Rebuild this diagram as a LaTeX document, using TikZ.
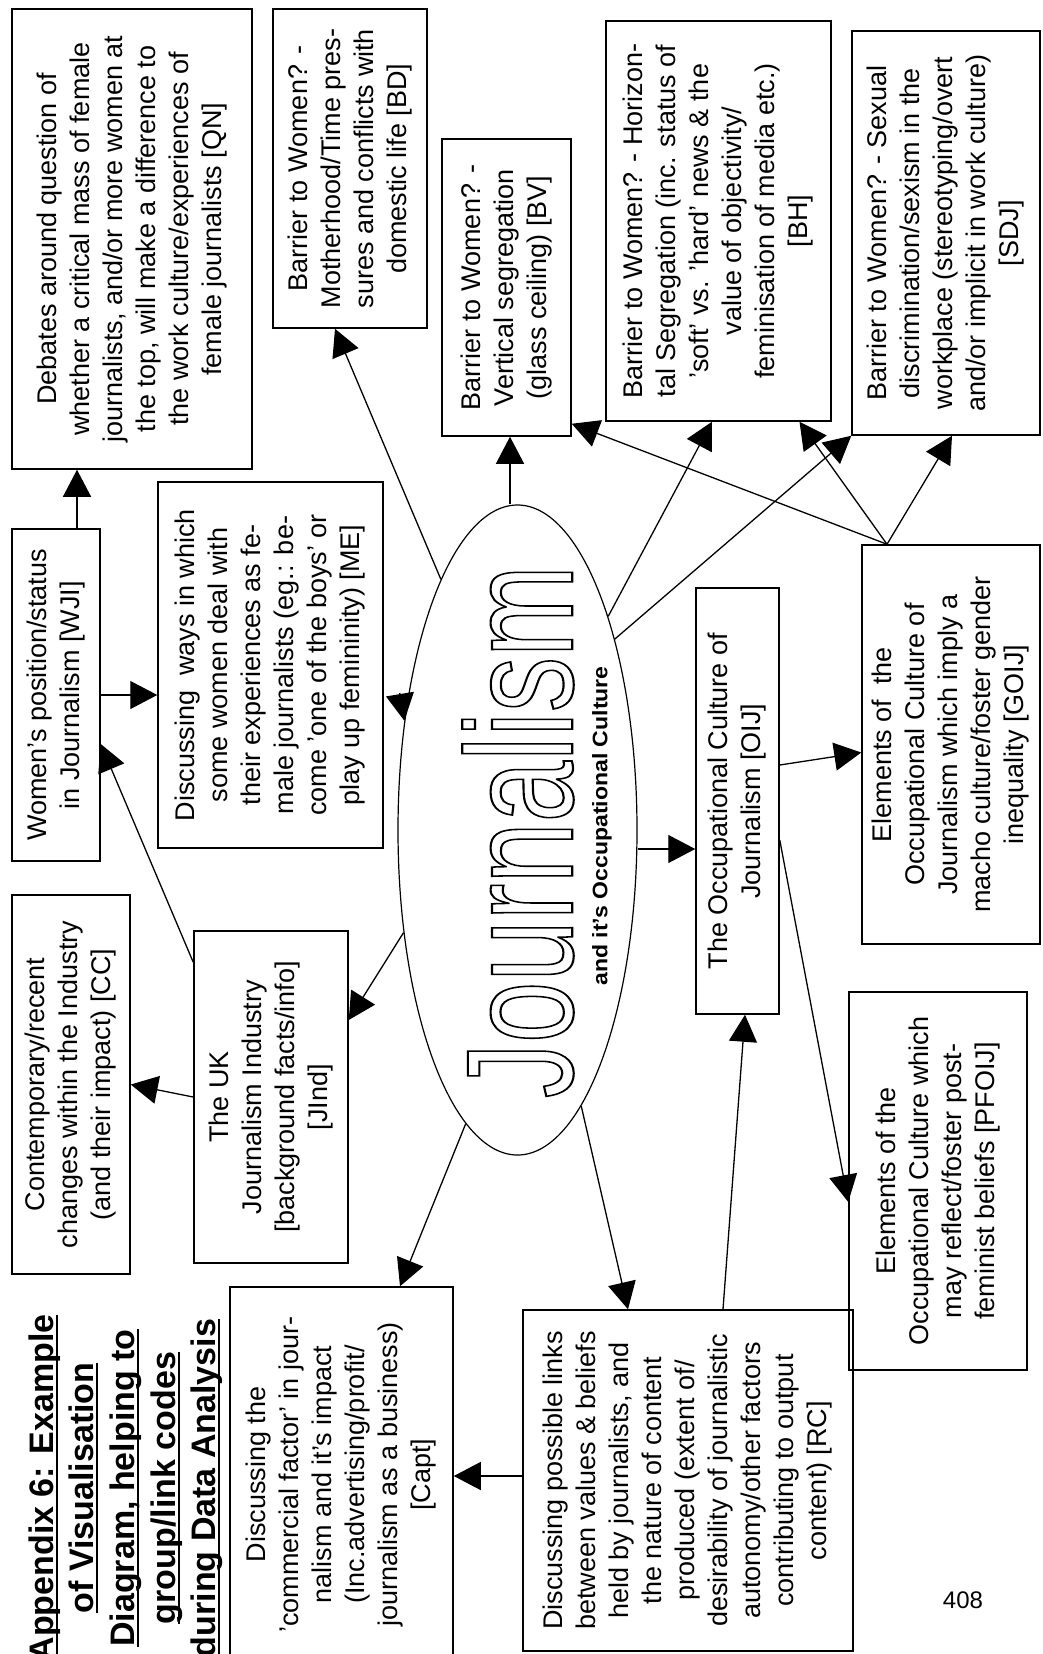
\documentclass[tikz,border=0pt]{standalone}
\usepackage{fontspec}
\setmainfont{Liberation Sans}
\usetikzlibrary{arrows.meta,shapes.geometric}
\newcommand{\rt}[1]{\rotatebox{90}{\begin{tabular}{@{}c@{}}#1\end{tabular}}}
\newcommand{\ulx}[1]{\setbox0\hbox{#1}\rlap{\rule[-5pt]{\wd0}{2.4pt}}\box0}
\newcommand{\outl}[1]{\special{pdf:literal direct 1 Tr 1.4 w}#1\special{pdf:literal direct 0 Tr}}
\begin{document}
\begin{tikzpicture}[x=1pt,y=-1pt,
  box/.style={draw, line width=1.5pt, inner sep=0pt, font=\fontsize{27}{33}\selectfont},
  arr/.style={line width=1.3pt, -{Triangle[length=27pt,width=28pt]}},
  ttl/.style={rotate=90, anchor=base, inner sep=0pt, font=\fontsize{34}{40}\selectfont\bfseries},
]
\useasboundingbox (0,0) rectangle (1042,1654);
\clip (0,0) rectangle (1042,1654);
\fill[white] (0,0) rectangle (1042,1654);

% ellipse
\node[ellipse, draw, line width=1.2pt, minimum width=239pt, minimum height=650pt, inner sep=0pt] (E) at (517.5,830) {};
\node[inner sep=0pt] (J) at (518,831.5) {\rotatebox{90}{\resizebox{533pt}{110pt}{\fontsize{100}{100}\selectfont\outl{Journalism}}}};
\node[inner sep=0pt] (sub) at (602,826) {\rotatebox{90}{\resizebox{319pt}{\height}{\fontsize{21}{25}\selectfont\bfseries and it's Occupational Culture}}};

% boxes
\node[box, minimum width=240pt, minimum height=460pt] (QN) at (132,239) {\rt{Debates around question of\\ whether a critical mass of female\\ journalists, and/or more women at\\ the top, will make a difference to\\ the work culture/experiences of\\ female journalists [QN]}};
\node[box, minimum width=154pt, minimum height=319pt] (BD) at (350,168.5) {\rt{Barrier to Women? -\\ Motherhood/Time pres-\\ sures and conflicts with\\ domestic life [BD]}};
\node[box, minimum width=129pt, minimum height=297pt] (BV) at (506.5,287.5) {\rt{Barrier to Women? -\\ Vertical segregation\\ (glass ceiling) [BV]}};
\node[box, minimum width=225pt, minimum height=400pt] (BH) at (718.5,221) {\rt{Barrier to Women? - Horizon-\\ tal Segregation (inc. status of\\ 'soft' vs. 'hard' news \& the\\ value of objectivity/\\ feminisation of media etc.)\\{}[BH]}};
\node[box, minimum width=188pt, minimum height=404pt] (SDJ) at (946,233) {\rt{Barrier to Women? - Sexual\\ discrimination/sexism in the\\ workplace (stereotyping/overt\\ and/or implicit in work culture)\\{}[SDJ]}};
\node[box, minimum width=88pt, minimum height=332pt] (WJI) at (56,695) {\rt{Women's position/status\\ in Journalism [WJI]}};
\node[box, minimum width=225pt, minimum height=366pt] (ME) at (270.5,665) {\rt{Discussing\ \ ways in which\\ some women deal with\\ their experiences as fe-\\ male journalists (eg.: be-\\ come 'one of the boys' or\\ play up femininity) [ME]}};
\node[box, minimum width=118pt, minimum height=379pt] (CC) at (71,1084.5) {\rt{Contemporary/recent\\ changes within the Industry\\ (and their impact) [CC]}};
\node[box, minimum width=154pt, minimum height=332pt] (JInd) at (271,1097) {\rt{The UK\\ Journalism Industry\\{}[background facts/info]\\{}[JInd]}};
\node[box, minimum width=223pt, minimum height=375pt] (Capt) at (341.5,1474.5) {\rt{Discussing the\\ 'commercial factor' in jour-\\ nalism and it's impact\\ (Inc.advertising/profit/\\ journalism as a business)\\{}[Capt]}};
\node[box, minimum width=330pt, minimum height=341pt] (RC) at (688,1480.5) {\rt{Discussing possible links\\ between values \& beliefs\\ held by journalists, and\\ the nature of content\\ produced (extent of/\\ desirability of journalistic\\ autonomy/other factors\\ contributing to output\\ content) [RC]}};
\node[box, minimum width=83pt, minimum height=426pt] (OIJ) at (737.5,801) {\rt{The Occupational Culture of\\ Journalism [OIJ]}};
\node[box, minimum width=178pt, minimum height=399pt] (GOIJ) at (951,744.5) {\rt{Elements of\ \ the\\ Occupational Culture of\\ Journalism which imply a\\ macho culture/foster gender\\ inequality [GOIJ]}};
\node[box, minimum width=178pt, minimum height=378pt] (PFOIJ) at (938,1181) {\rt{Elements of the\\ Occupational Culture which\\ may reflect/foster post-\\ feminist beliefs [PFOIJ]}};

% title
\node[ttl] (t1) at (53,1488) {\ulx{Appendix 6: Example}};
\node[ttl] (t2) at (93,1488) {\ulx{of Visualisation}};
\node[ttl] (t3) at (134,1488) {\ulx{Diagram, helping to}};
\node[ttl] (t4) at (175,1488) {\ulx{group/link codes}};
\node[ttl] (t5) at (215,1488) {\ulx{during Data Analysis}};

\node[inner sep=0pt, font=\fontsize{24}{28}\selectfont] (pg) at (963,1600) {408};

% connectors
\draw[arr] ([xshift=21pt]WJI.north) -- ([xshift=-55pt]QN.south);
\draw[arr] (WJI.east) -- (ME.west |- WJI.east);
\draw[arr] ([yshift=-32pt]JInd.north west) -- ([yshift=-49pt]WJI.east);
\draw[arr] (JInd.west) -- (CC.east);
\draw[arr] (E.222.5) -- ([yshift=77pt]JInd.east);
\draw[arr] ([xshift=16pt,yshift=-28pt]ME.east) -- (E.136);
\draw[arr] (E.107.3) -- ([xshift=-15pt]BD.south);
\draw[arr] ([xshift=-7.5pt]E.north) -- ([xshift=3.5pt]BV.south);
\draw[arr] (E.67.9) -- ([xshift=-6.5pt]BH.south);
\draw[arr] (E.63) -- (SDJ.south west);
\draw[arr] ([xshift=-64pt]GOIJ.north) -- ([yshift=13pt]BV.south east);
\draw[arr] ([xshift=-64pt]GOIJ.north) -- ([xshift=81pt]BH.south);
\draw[arr] ([xshift=-64pt]GOIJ.north) -- ([xshift=6pt]SDJ.south);
\draw[arr] ([yshift=-19pt]E.east) -- ([yshift=-48pt]OIJ.west);
\draw[arr] ([yshift=36pt]OIJ.east) -- ([yshift=-8pt]GOIJ.west);
\draw[arr] ([yshift=-39pt]OIJ.east) -- ([yshift=-21pt]PFOIJ.west);
\draw[arr] ([xshift=35pt]RC.north) -- ([xshift=7.5pt]OIJ.south);
\draw[arr] (E.283.3) -- ([xshift=-60pt]RC.north);
\draw[arr] (E.260.2) -- ([xshift=58.5pt]Capt.north);
\draw[arr] ([yshift=4.5pt]RC.west) -- ([yshift=-1.5pt]Capt.east);
\end{tikzpicture}
\end{document}
